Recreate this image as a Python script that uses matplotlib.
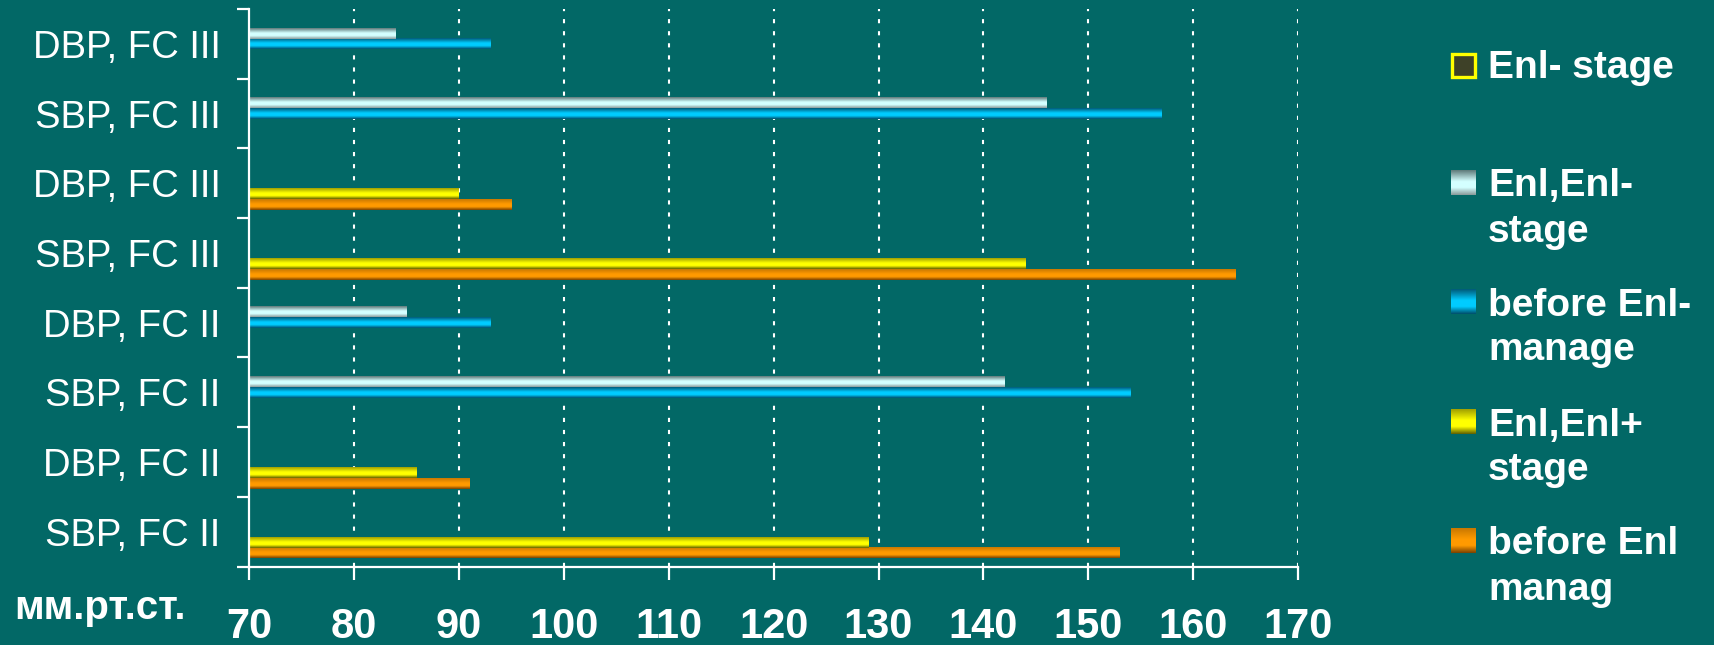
import numpy as np
import matplotlib.pyplot as plt
from matplotlib.colors import LinearSegmentedColormap

# categories listed bottom to top
categories = ['SBP, FC II', 'DBP, FC II', 'SBP, FC II', 'DBP, FC II',
              'SBP, FC III', 'DBP, FC III', 'SBP, FC III', 'DBP, FC III']

nan = np.nan
before_manag = [153, 91, nan, nan, 164, 95, nan, nan]     # before Enl manag
enl_plus = [129, 86, nan, nan, 144, 90, nan, nan]         # Enl,Enl+ stage
before_manage = [nan, nan, 154, 93, nan, nan, 157, 93]    # before Enl-manage
enl_minus = [nan, nan, 142, 85, nan, nan, 146, 84]        # Enl,Enl- stage
enl_stage = [nan] * 8                                     # Enl- stage

x_ticks = [70, 80, 90, 100, 110, 120, 130, 140, 150, 160, 170]
unit_label = 'мм.рт.ст.'

bg = '#026866'

# series from bottom slot to top slot in each group: (label, values, edge, mid, edge2)
series = [
    ('before Enl\nmanag', before_manag, '#c87800', '#ff9a00', '#7a4200'),
    ('Enl,Enl+\nstage', enl_plus, '#a0a000', '#ffff00', '#606000'),
    ('before Enl-\nmanage', before_manage, '#005a78', '#00ccff', '#004e6a'),
    ('Enl,Enl-\nstage', enl_minus, '#5f7a7a', '#d4ffff', '#8a9a9a'),
    ('Enl- stage', enl_stage, '#3e4128', '#3e4128', '#3e4128'),
]


def shade_cmap(c_top, c_mid, c_bot):
    return LinearSegmentedColormap.from_list(
        'shade', [(0, c_bot), (0.3, c_mid), (0.55, c_mid), (1, c_top)])


def gradient_box(ax, x0, x1, y0, y1, cmap, z=2):
    grad = np.linspace(0, 1, 64).reshape(-1, 1)
    ax.imshow(grad, extent=(x0, x1, y0, y1), origin='lower', aspect='auto',
              cmap=cmap, interpolation='bilinear', zorder=z)


fig = plt.figure(figsize=(17.15, 6.45), dpi=100, facecolor=bg)
ax = fig.add_axes([0.1452, 0.1217, 0.6118, 0.8643])
ax.set_facecolor(bg)

y = np.arange(len(categories))
h = 1 / 6.5
for k, (label, vals, c_top, c_mid, c_bot) in enumerate(series):
    bars = ax.barh(y + (k - 2) * h, vals, height=h, color=c_mid, zorder=2)
    cmap = shade_cmap(c_top, c_mid, c_bot)
    for b in bars:
        if np.isnan(b.get_width()):
            continue
        x0, y0 = b.get_x(), b.get_y()
        gradient_box(ax, x0, x0 + b.get_width(), y0, y0 + b.get_height(), cmap)
        b.set_visible(False)

ax.set_xlim(70, 170)
ax.set_ylim(-0.5, len(categories) - 0.5)

for xv in x_ticks[1:]:
    ax.axvline(xv, color='white', lw=1.5, ls=(0, (2, 3.8)), zorder=1)

for side in ['top', 'right']:
    ax.spines[side].set_visible(False)
for side in ['left', 'bottom']:
    ax.spines[side].set_color('white')
    ax.spines[side].set_linewidth(1.6)

ax.set_xticks(x_ticks)
ax.tick_params(axis='x', colors='white', length=9, width=1.6, pad=20.5,
               labelsize=30)
for t in ax.get_xticklabels():
    t.set_fontweight('bold')
    t.set_family('Liberation Sans')

ax.set_yticks(np.arange(-0.5, len(categories), 1))
ax.set_yticklabels([])
ax.set_yticks(y, minor=True)
ax.set_yticklabels(categories, minor=True, family='Liberation Sans',
                   fontsize=27.5, color='white')
ax.tick_params(axis='y', which='major', colors='white', length=9, width=1.6)
ax.tick_params(axis='y', which='minor', length=0, pad=20.5)

fig.text(0.0583, 0.057, unit_label, color='white', fontsize=29,
         fontweight='bold', family='Liberation Sans', ha='center', va='center')

# legend drawn in pixel coordinates on its own axes
lax = fig.add_axes([0, 0, 1, 1], zorder=5)
lax.set_xlim(0, 1715)
lax.set_ylim(645, 0)
lax.axis('off')
lax.patch.set_alpha(0)
rows = [65, 183, 302, 422, 541]
for (label, vals, c_top, c_mid, c_bot), yc in zip(series[::-1], rows):
    if label == 'Enl- stage':
        lax.add_patch(plt.Rectangle((1452.5, yc - 11.5), 23, 23,
                                    facecolor=c_mid, edgecolor='#ffff00',
                                    lw=2.4))
    else:
        gradient_box(lax, 1451, 1476, yc + 12.5, yc - 12.5,
                     shade_cmap(c_top, c_mid, c_bot), z=6)
    for i, line in enumerate(label.split('\n')):
        lax.text(1488, yc + 13.5 + 45 * i, line, color='white', fontsize=28,
                 fontweight='bold', family='Liberation Sans',
                 va='baseline', ha='left')
lax.set_xlim(0, 1715)
lax.set_ylim(645, 0)

fig.savefig('out.png', dpi=100, facecolor=bg)
